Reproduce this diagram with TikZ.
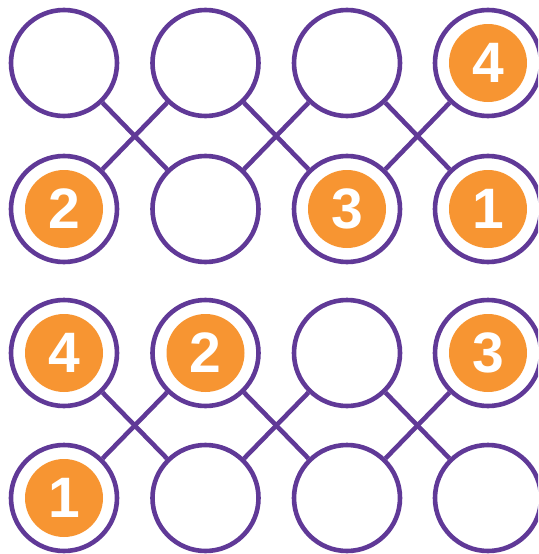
\documentclass[tikz,border=0pt]{standalone}
\usepackage{fontspec}
\setmainfont{Liberation Sans}
\definecolor{pur}{RGB}{96,57,151}
\definecolor{org}{RGB}{247,149,50}
\begin{document}
\begin{tikzpicture}[x=1pt,y=-1pt,
  ring/.style={circle,draw=pur,line width=4.6pt,minimum size=106pt,inner sep=0pt},
  num/.style={circle,fill=org,minimum size=78pt,inner sep=0pt,text=white,font=\fontsize{57}{57}\selectfont\bfseries},
  link/.style={draw=pur,line width=4.6pt}]
\useasboundingbox (0,0) rectangle (538,554);
\clip (0,0) rectangle (538,554);
\foreach \r/\y in {a/63,b/209,c/353,d/498}{
  \foreach \c/\x in {1/64,2/205.5,3/347,4/488}{
    \node[ring] (\r\c) at (\x,\y) {};
  }
}
\foreach \t/\b in {a/b,c/d}{
  \foreach \i/\j in {1/2,2/3,3/4}{
    \draw[link] (\t\i) -- (\b\j);
    \draw[link] (\t\j) -- (\b\i);
  }
}
\node[num] (na4) at (a4) {4};
\node[num] (nb1) at (b1) {2};
\node[num] (nb3) at (b3) {3};
\node[num] (nb4) at (b4) {1};
\node[num] (nc1) at (c1) {4};
\node[num] (nc2) at (c2) {2};
\node[num] (nc4) at (c4) {3};
\node[num] (nd1) at (d1) {1};
\end{tikzpicture}
\end{document}
